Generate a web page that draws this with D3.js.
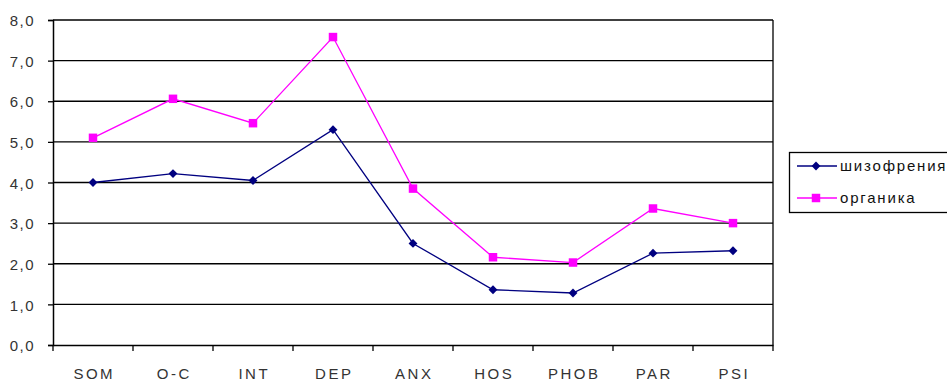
<!DOCTYPE html>
<html>
<head>
<meta charset="utf-8">
<script src="https://cdn.jsdelivr.net/npm/d3@7"></script>
<style>
  html, body { margin: 0; padding: 0; background: #fff; }
  svg { display: block; font-family: "Liberation Sans", Arial, sans-serif; }
</style>
</head>
<body>
<svg id="chart" width="947" height="381"></svg>
<script>
// Scale categories and the mean scores of the two groups
const categories = ["SOM", "O-C", "INT", "DEP", "ANX", "HOS", "PHOB", "PAR", "PSI"];
const schizophrenia = [4.0, 4.22, 4.05, 5.3, 2.5, 1.36, 1.28, 2.26, 2.32];
const organic = [5.1, 6.06, 5.46, 7.58, 3.85, 2.16, 2.03, 3.36, 3.0];
const yTicks = [0, 1, 2, 3, 4, 5, 6, 7, 8];
const seriesNames = ["шизофрения", "органика"];

const svg = d3.select("#chart");
const plotLeft = 53, plotRight = 773, plotTop = 20, plotBottom = 345;

const x = d3.scaleBand().domain(categories).range([plotLeft, plotRight]);
const y = d3.scaleLinear().domain([0, 8]).range([plotBottom, plotTop]);
const fmt = v => d3.format(".1f")(v).replace(".", ",");

// Horizontal gridlines
svg.append("g").selectAll("line").data(yTicks.filter(d => d > 0)).join("line")
  .attr("x1", plotLeft).attr("x2", plotRight)
  .attr("y1", d => y(d)).attr("y2", d => y(d))
  .attr("stroke", "#000").attr("stroke-width", 1.3);

// Right edge of the plot area
svg.append("line").attr("x1", plotRight).attr("x2", plotRight).attr("y1", plotTop).attr("y2", plotBottom)
  .attr("stroke", "#000").attr("stroke-width", 1.3);

// Y axis
const yAxis = svg.append("g").attr("transform", `translate(${plotLeft},0)`)
  .call(d3.axisLeft(y).tickValues(yTicks).tickFormat(fmt).tickSize(5).tickPadding(13));
yAxis.select(".domain").attr("stroke-width", 1.5);
yAxis.selectAll(".tick line").attr("stroke-width", 1.3);
yAxis.selectAll("text").attr("font-size", 15).attr("fill", "#333")
  .attr("letter-spacing", "1.5px").attr("dy", "0.38em");

// X axis with ticks on category boundaries
const xAxis = svg.append("g").attr("transform", `translate(0,${plotBottom})`)
  .call(d3.axisBottom(x).tickSize(0).tickPadding(23));
xAxis.select(".domain").attr("stroke-width", 1.5);
xAxis.selectAll("text").attr("font-size", 15).attr("fill", "#333")
  .attr("letter-spacing", "2.5px").attr("dx", "1.25px");
const bounds = categories.map(c => x(c)).concat([plotRight]);
xAxis.append("g").selectAll("line").data(bounds).join("line")
  .attr("x1", d => d).attr("x2", d => d).attr("y1", 0).attr("y2", 6)
  .attr("stroke", "#000").attr("stroke-width", 1.3);

const cx = c => x(c) + x.bandwidth() / 2;
const line = d3.line().x((d, i) => cx(categories[i])).y(d => y(d));

const series = [
  { name: seriesNames[0], values: schizophrenia, color: "#000080", shape: d3.symbolDiamond2, size: 50 },
  { name: seriesNames[1], values: organic, color: "#FF00FF", shape: d3.symbolSquare, size: 72 }
];

series.forEach(s => {
  svg.append("path").datum(s.values).attr("d", line)
    .attr("fill", "none").attr("stroke", s.color).attr("stroke-width", 1.3);
  svg.append("g").selectAll("path").data(s.values).join("path")
    .attr("transform", (d, i) => `translate(${cx(categories[i])},${y(d)})`)
    .attr("d", d3.symbol().type(s.shape).size(s.size))
    .attr("fill", s.color);
});

// Legend
const lg = svg.append("g");
lg.append("rect").attr("x", 789.5).attr("y", 152.5).attr("width", 170).attr("height", 60)
  .attr("fill", "#fff").attr("stroke", "#000").attr("stroke-width", 1.3);
series.forEach((s, i) => {
  const ly = 166 + i * 32;
  lg.append("line").attr("x1", 797).attr("x2", 837).attr("y1", ly).attr("y2", ly)
    .attr("stroke", s.color).attr("stroke-width", 1.3);
  lg.append("path").attr("transform", `translate(816,${ly})`)
    .attr("d", d3.symbol().type(s.shape).size(s.size)).attr("fill", s.color);
  lg.append("text").attr("x", 840).attr("y", ly + 5).attr("font-size", 15)
    .attr("letter-spacing", "1.8px").attr("fill", "#111").text(s.name);
});
</script>
</body>
</html>
